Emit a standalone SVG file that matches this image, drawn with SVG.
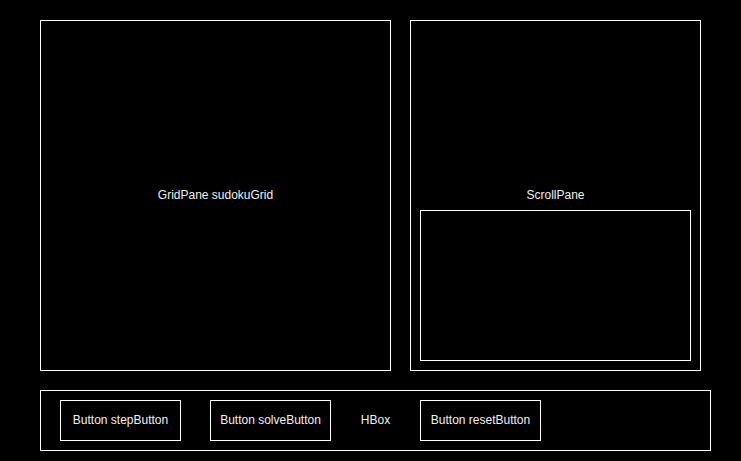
<svg xmlns="http://www.w3.org/2000/svg" width="741" height="461" viewBox="0 0 741 461">
<style>
.box{fill:none;stroke:#ffffff;stroke-width:1}
.lbl{font-family:"Liberation Sans",Arial,sans-serif;font-size:12px;fill:#f0f0f0;text-anchor:middle;dominant-baseline:central}
</style>
<rect x="0" y="0" width="741" height="461" fill="#000000"/>
<g id="sudokuGrid">
<rect class="box" x="40.5" y="20.5" width="350" height="350"/>
<text class="lbl" x="215.5" y="195">GridPane sudokuGrid</text>
</g>
<g id="scrollPane">
<rect class="box" x="410.5" y="20.5" width="290" height="350"/>
<text class="lbl" x="555.5" y="195">ScrollPane</text>
</g>
<g id="scrollContent">
<rect class="box" x="420.5" y="210.5" width="270" height="150"/>
</g>
<g id="hbox">
<rect class="box" x="40.5" y="390.5" width="670" height="60"/>
<text class="lbl" x="375.5" y="420">HBox</text>
</g>
<g id="stepButton">
<rect class="box" x="60.5" y="400.5" width="120" height="40"/>
<text class="lbl" x="120.5" y="420">Button stepButton</text>
</g>
<g id="solveButton">
<rect class="box" x="210.5" y="400.5" width="120" height="40"/>
<text class="lbl" x="270.5" y="420">Button solveButton</text>
</g>
<g id="resetButton">
<rect class="box" x="420.5" y="400.5" width="120" height="40"/>
<text class="lbl" x="480.5" y="420">Button resetButton</text>
</g>
<g id="connectors"></g>
</svg>
